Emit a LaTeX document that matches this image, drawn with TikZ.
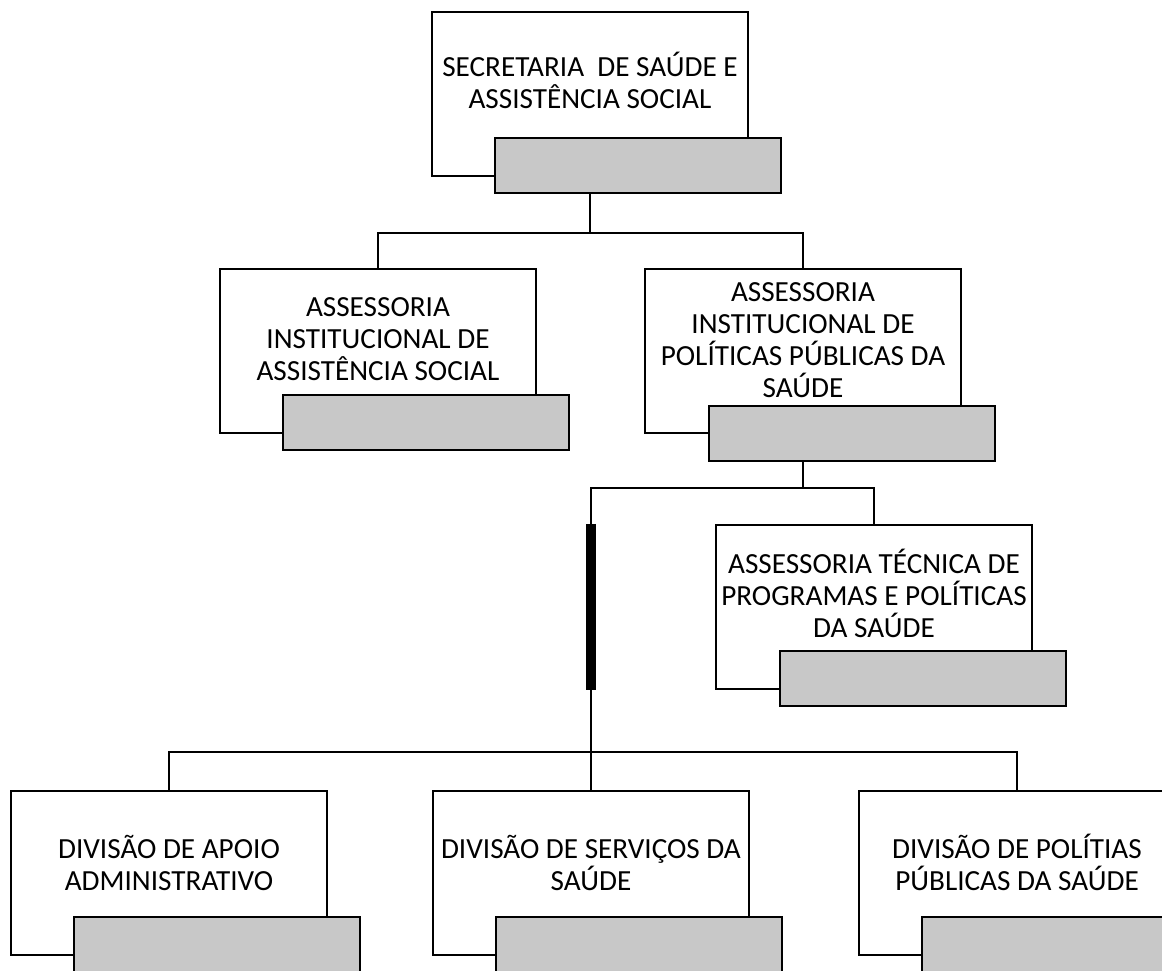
\documentclass[tikz,border=0pt]{standalone}
\usepackage{fontspec}
\setmainfont{Carlito}
\definecolor{tagfill}{RGB}{200,200,200}

\begin{document}
\begin{tikzpicture}[x=0.5pt,y=-0.5pt,
    unit/.style={draw,line width=1.2pt,fill=white,minimum width=158pt,minimum height=82pt,inner sep=0pt},
    tag/.style={draw,line width=1.2pt,fill=tagfill,minimum width=143pt,minimum height=27.5pt,inner sep=0pt,anchor=north west},
    lbl/.style={align=center,font=\fontsize{14.6}{16}\selectfont,inner sep=0pt},
    link/.style={line width=1pt}]
    \useasboundingbox (0,0) rectangle (1162,970);
    \clip (0,0) rectangle (1162,970);
    % secretaria
    \node[unit] (sec) at (590,94) {};
    \node[tag] (sec-tag) at ([shift={(63,126)}]sec.north west) {};
    \node[lbl] (sec-txt) at ([shift={(0,70)}]sec.north) {SECRETARIA~ DE SAÚDE E\\ASSISTÊNCIA SOCIAL};
    % assessorias
    \node[unit] (aias) at (378,351) {};
    \node[tag] (aias-tag) at ([shift={(63,126)}]aias.north west) {};
    \node[lbl] (aias-txt) at ([shift={(0,71)}]aias.north) {ASSESSORIA\\INSTITUCIONAL DE\\ASSISTÊNCIA SOCIAL};
    \node[unit] (aipps) at (803,351) {};
    \node[tag] (aipps-tag) at ([shift={(64,137)}]aipps.north west) {};
    \node[lbl] (aipps-txt) at ([shift={(0,72)}]aipps.north) {ASSESSORIA\\INSTITUCIONAL DE\\POLÍTICAS PÚBLICAS DA\\SAÚDE};
    \node[unit] (tec) at (874,607) {};
    \node[tag] (tec-tag) at ([shift={(64,126)}]tec.north west) {};
    \node[lbl] (tec-txt) at ([shift={(0,70)}]tec.north) {ASSESSORIA TÉCNICA DE\\PROGRAMAS E POLÍTICAS\\DA SAÚDE};
    % divisoes
    \node[unit] (dap) at (169,873) {};
    \node[tag] (dap-tag) at ([shift={(63,126)}]dap.north west) {};
    \node[lbl] (dap-txt) at ([shift={(0,73)}]dap.north) {DIVISÃO DE APOIO\\ADMINISTRATIVO};
    \node[unit] (dss) at (591,873) {};
    \node[tag] (dss-tag) at ([shift={(63,126)}]dss.north west) {};
    \node[lbl] (dss-txt) at ([shift={(0,73)}]dss.north) {DIVISÃO DE SERVIÇOS DA\\SAÚDE};
    \node[unit] (dpps) at (1017,873) {};
    \node[tag] (dpps-tag) at ([shift={(63,126)}]dpps.north west) {};
    \node[lbl] (dpps-txt) at ([shift={(0,73)}]dpps.north) {DIVISÃO DE POLÍTIAS\\PÚBLICAS DA SAÚDE};
    % ligacoes
    \draw[link] (sec-tag.south -| sec) -- ++(0,39) coordinate (top-fork) -| (aias.north);
    \draw[link] (top-fork) -| (aipps.north);
    \draw[link] (aipps-tag.south -| aipps) -- ++(0,26) coordinate (mid-fork) -| (tec.north);
    \draw[link] (mid-fork) -| (dss.north);
    \draw[link] (dss.north) ++(0,-38) coordinate (low-fork) -| (dap.north);
    \draw[link] (low-fork) -| (dpps.north);
    \draw[line width=5pt] (tec.north -| dss.north) -- (tec.south -| dss.north);
\end{tikzpicture}
\end{document}
